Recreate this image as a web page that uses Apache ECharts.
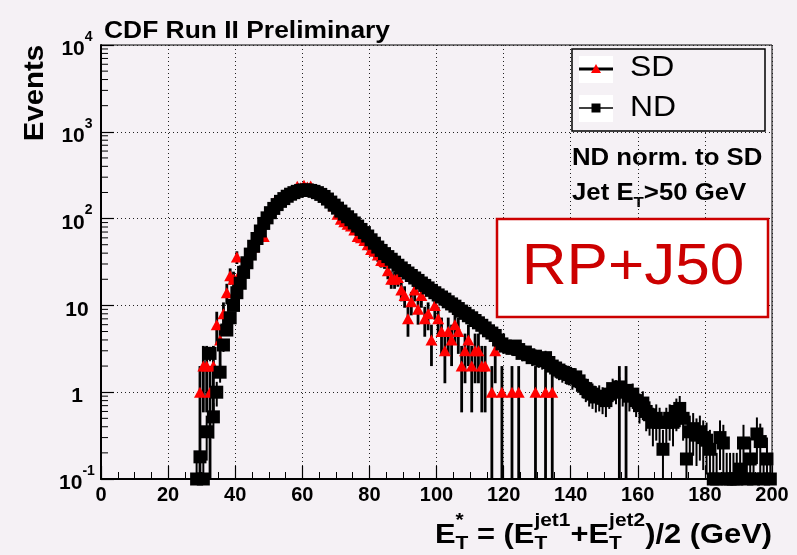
<!DOCTYPE html>
<html>
<head>
<meta charset="utf-8">
<script src="https://cdn.jsdelivr.net/npm/echarts@6.0.0/dist/echarts.min.js"></script>
<style>
html,body{margin:0;padding:0;background:#f5f1f5;}
#chart{width:797px;height:555px;}
</style>
</head>
<body>
<div id="chart"></div>
<script>
// ---------------- data ----------------
const BIN_WIDTH = 1;            // GeV per bin
const ND_FIRST_BIN = 28;        // lower edge of first ND bin
const ndValues = [
  0.1, 0.18, 0.1, 0.35, 2.8, 0.52, 1.0, 1.7, 3.5, 5.2,        // 28-37
  7.2, 10, 14, 18, 24, 31, 39, 48, 59, 72,                    // 38-47
  88, 102, 117, 131, 145, 158, 170, 181, 191, 199,            // 48-57
  206, 211, 214, 214, 211, 206, 199, 190, 180, 168,           // 58-67
  155, 143, 132, 122, 113, 105, 97, 89, 82, 75,               // 68-77
  69, 63, 57, 52, 47, 43, 39.5, 36.5, 34, 31.5,               // 78-87
  29, 27, 25.2, 23.6, 22.1, 20.7, 19.4, 18.1, 17, 15.9,       // 88-97
  14.9, 14, 13.2, 12.5, 11.8, 11.0, 10.4, 9.8, 9.2, 8.6,      // 98-107
  8.1, 7.6, 7.2, 6.7, 6.3, 5.9, 5.5, 5.1, 4.8, 4.5,           // 108-117
  4.0, 3.6, 3.4, 3.3, 3.2, 3.4, 3.1, 2.8, 2.9, 2.7,           // 118-127
  2.5, 2.6, 2.4, 2.3, 2.5, 2.2, 2.0, 1.9, 1.8, 1.7,           // 128-137
  1.65, 1.6, 1.45, 1.5, 1.35, 1.2, 1.1, 1.0, 0.95, 0.88,      // 138-147
  0.9, 0.85, 0.8, 0.95, 1.1, 1.05, 1.15, 1.0, 1.05, 0.9,      // 148-157
  0.95, 0.8, 0.7, 0.75, 0.6, 0.55, 0.45, 0.5, 0.45, 0.22,     // 158-167
  0.45, 0.5, 0.45, 0.6, 0.65, 0.5, 0.17, 0.35, 0.38, 0.32,    // 168-177
  0.35, 0.3, 0.28, 0.22, 0.1, 0.1, 0.3, 0.26, 0.1, 0.1,       // 178-187
  0.1, 0.1, 0.13, 0.26, 0.1, 0.17, 0.1, 0.33, 0.27, 0.1,      // 188-197
  0.17, 0.1                                                   // 198-199
];
const SD_FIRST_BIN = 29;        // lower edge of first SD bin (null = empty bin)
const sdValues = [
  1, 2, 2, 1, 2, 6, 4, 8, 14, 22,                             // 29-38
  20, 36, 24, 28, 33, 40, 47, 60, 70, 62,                     // 39-48
  104, 120, 151, 148, 165, 178, 186, 200, 212, 236,           // 49-58
  226, 242, 232, 238, 218, 210, 196, 182, 172, 168,           // 59-68
  140, 112, 98, 92, 86, 82, 74, 62, 60, 56,                   // 69-78
  50, 44, 42, 38, 33, 32, 25, 20, 20, 21,                     // 79-88
  15, 13, 7, 11, 15, 9, 13, 7, 8, 4,                          // 89-98
  10, 7, 5, 3, 5, 4, 6, 5, 2, 3,                              // 99-108
  4, 2, 3, 3, 2, 2, null, 1, 3, null,                         // 109-118
  1, null, null, 1, null, 1, null, null, null, null,          // 119-128
  1, null, null, 1, null, 1, null, null, null, null,          // 129-138
  null, null, null, null, null, null, null, null, null, null, // 139-148
  null, null, null, null, null, 1, null, 1                    // 149-156
];
const ND_WEIGHT = 0.1;          // ND normalised to SD: one event = 0.1
const SD_WEIGHT = 1;
const seriesNames = ['SD', 'ND'];
const xTickValues = [0, 20, 40, 60, 80, 100, 120, 140, 160, 180, 200];
const yTickValues = [0.1, 1, 10, 100, 1000, 10000];
const yTickLabels = [['10', '-1'], ['1', ''], ['10', ''], ['10', '2'], ['10', '3'], ['10', '4']];
const X_MIN = 0, X_MAX = 200, Y_MIN = 0.1, Y_MAX = 10000;

// ---------------- build series data ----------------
function toPoints(values, firstBin) {
  const pts = [];
  values.forEach((v, i) => {
    if (v !== null && v > 0) pts.push([firstBin + (i + 0.5) * BIN_WIDTH, v]);
  });
  return pts;
}
function toErrors(points, w) {
  return points.map(([x, v]) => {
    const s = Math.sqrt(v * w);
    return [x, Math.max(v - s, Y_MIN), v + s];
  });
}
const ndPts = toPoints(ndValues, ND_FIRST_BIN);
const sdPts = toPoints(sdValues, SD_FIRST_BIN);
const ndErr = toErrors(ndPts, ND_WEIGHT);
const sdErr = toErrors(sdPts, SD_WEIGHT);

// log minor ticks (2..9 in every decade)
const yMinorTicks = [];
for (let d = -1; d < 4; d++) for (let k = 2; k <= 9; k++) yMinorTicks.push(k * Math.pow(10, d));

const FONT = "'Liberation Sans', Arial, Helvetica, sans-serif";
const BG = '#f5f1f5';

function errRender(width) {
  return function (params, api) {
    const x = api.value(0);
    const p1 = api.coord([x, api.value(1)]);
    const p2 = api.coord([x, api.value(2)]);
    return { type: 'line', shape: { x1: p1[0], y1: p1[1], x2: p2[0], y2: p2[1] },
             style: { stroke: '#000', lineWidth: width } };
  };
}

// ---------------- text helpers ----------------
const mctx = document.createElement('canvas').getContext('2d');
function tw(t, fs, bold) { mctx.font = (bold ? 'bold ' : '') + fs + 'px ' + FONT; return mctx.measureText(t).width; }
function txt(t, x, y, fs, bold, fill) {
  return { type: 'text', x: x, y: y, style: { text: t, fontSize: fs, fontWeight: bold ? 'bold' : 'normal',
           fontFamily: FONT, fill: fill || '#000', align: 'left', verticalAlign: 'middle' } };
}
function composite(parts, bold) {
  let x = 0; const kids = [];
  parts.forEach(p => {
    if (p.t !== undefined) { kids.push(txt(p.t, x, 0, p.fs, bold)); x += tw(p.t, p.fs, bold); }
    else {
      const w = Math.max(p.sup ? tw(p.sup, p.fs, bold) : 0, p.sub ? tw(p.sub, p.fs, bold) : 0);
      if (p.sup) kids.push(txt(p.sup, x, p.supDy, p.fs, bold));
      if (p.sub) kids.push(txt(p.sub, x, p.subDy, p.fs, bold));
      x += w;
    }
  });
  return { kids, width: x };
}

// x-axis title: E*_T = (E^jet1_T + E^jet2_T)/2 (GeV)
const xt = composite([
  { t: 'E', fs: 28 }, { sup: '*', sub: 'T', fs: 19, supDy: -14, subDy: 9 },
  { t: ' = (E', fs: 28 }, { sup: 'jet1', sub: 'T', fs: 19, supDy: -14, subDy: 9 },
  { t: '+E', fs: 28 }, { sup: 'jet2', sub: 'T', fs: 19, supDy: -14, subDy: 9 },
  { t: ')/2 (GeV)', fs: 28 }
], true);
const XT_LEFT = 435, XT_RIGHT = 772;
const xtScale = (XT_RIGHT - XT_LEFT) / xt.width;

const jet = composite([
  { t: 'Jet E', fs: 23 }, { sub: 'T', fs: 15, subDy: 9 }, { t: '>50 GeV', fs: 23 }
], true);

const chart = echarts.init(document.getElementById('chart'), null, { renderer: 'canvas' });
chart.setOption({
  backgroundColor: BG,
  animation: false,
  grid: { left: 101, right: 25, top: 45, bottom: 76, show: true, borderColor: '#000', borderWidth: 1,
          backgroundColor: 'transparent', containLabel: false, outerBoundsMode: 'none' },
  xAxis: {
    type: 'value', min: X_MIN, max: X_MAX, interval: 20,
    axisLine: { show: true, onZero: false, lineStyle: { color: '#000', width: 2 } },
    axisTick: { show: true, inside: true, length: 13, lineStyle: { color: '#000', width: 1.2 } },
    minorTick: { show: true, splitNumber: 4, length: 7, lineStyle: { color: '#000', width: 1 } },
    splitLine: { show: true, lineStyle: { color: '#222', width: 1, type: [1, 3] } },
    axisLabel: { show: true, margin: 6, fontSize: 20, fontWeight: 'bold', fontFamily: FONT, color: '#000',
                 formatter: v => xTickValues.indexOf(v) >= 0 ? String(v) : '' }
  },
  yAxis: {
    type: 'log', logBase: 10, min: Y_MIN, max: Y_MAX, splitNumber: 5,
    axisLine: { show: true, onZero: false, lineStyle: { color: '#000', width: 2 } },
    axisTick: { show: true, inside: true, length: 13, lineStyle: { color: '#000', width: 1.2 } },
    minorTick: { show: false },
    splitLine: { show: true, lineStyle: { color: '#222', width: 1, type: [1, 3] } },
    axisLabel: {
      show: true, margin: 24, align: 'center', color: '#000',
      formatter: function (v) {
        let idx = -1;
        yTickValues.forEach((t, i) => { if (Math.abs(Math.log10(v) - Math.log10(t)) < 1e-6) idx = i; });
        if (idx < 0) return '';
        const [b, e] = yTickLabels[idx];
        return '{b|' + b + '}' + (e ? '{e|' + e + '}' : '');
      },
      rich: {
        b: { fontSize: 21, fontWeight: 'bold', fontFamily: FONT, color: '#000', lineHeight: 30, verticalAlign: 'bottom' },
        e: { fontSize: 14, fontWeight: 'bold', fontFamily: FONT, color: '#000', lineHeight: 14, verticalAlign: 'top' }
      }
    }
  },
  series: [
    { type: 'custom', name: 'yMinorTicks', silent: true, z: 5, data: [[X_MIN, Y_MIN]],
      renderItem: function (params, api) {
        return { type: 'group', children: yMinorTicks.map(v => {
          const p = api.coord([X_MIN, v]);
          return { type: 'line', shape: { x1: p[0], y1: p[1], x2: p[0] + 7, y2: p[1] }, style: { stroke: '#000', lineWidth: 1 } };
        }) };
      } },
    { type: 'custom', name: seriesNames[0] + ' err', data: sdErr, encode: { x: 0, y: [1, 2] },
      renderItem: errRender(2.8), clip: true, z: 2, silent: true },
    { type: 'scatter', name: seriesNames[0], data: sdPts, symbol: 'triangle', symbolSize: [12, 11],
      itemStyle: { color: '#ff0000', opacity: 1 }, z: 3, silent: true, clip: true },
    { type: 'custom', name: seriesNames[1] + ' err', data: ndErr, encode: { x: 0, y: [1, 2] },
      renderItem: errRender(2), clip: true, z: 4, silent: true },
    { type: 'scatter', name: seriesNames[1], data: ndPts, symbol: 'rect', symbolSize: 13,
      itemStyle: { color: '#000000', opacity: 1 }, z: 5, silent: true, clip: true }
  ],
  graphic: [
    // title
    { type: 'text', x: 104, y: 31, scaleX: 1.1, style: { text: 'CDF Run II Preliminary', fontSize: 24, fontWeight: 'bold',
      fontFamily: FONT, fill: '#000', align: 'left', verticalAlign: 'middle' } },
    // y axis title
    { type: 'text', x: 35, y: 93, rotation: Math.PI / 2, scaleX: 1.05, style: { text: 'Events', fontSize: 28, fontWeight: 'bold',
      fontFamily: FONT, fill: '#000', align: 'center', verticalAlign: 'middle' } },
    // legend box
    { type: 'rect', z: 100, shape: { x: 572, y: 49, width: 193, height: 82 },
      style: { fill: BG, stroke: '#000', lineWidth: 1.5 } },
    { type: 'rect', z: 101, shape: { x: 579, y: 56, width: 34, height: 27 }, style: { fill: '#fff' } },
    { type: 'rect', z: 101, shape: { x: 579, y: 95, width: 34, height: 27 }, style: { fill: '#fff' } },
    { type: 'line', z: 102, shape: { x1: 579, y1: 69, x2: 613, y2: 69 }, style: { stroke: '#000', lineWidth: 3 } },
    { type: 'polygon', z: 103, shape: { points: [[591, 73], [601, 73], [596, 64]] }, style: { fill: '#ff0000' } },
    { type: 'line', z: 102, shape: { x1: 579, y1: 108, x2: 613, y2: 108 }, style: { stroke: '#000', lineWidth: 1.5 } },
    { type: 'rect', z: 103, shape: { x: 591.5, y: 103.5, width: 9, height: 9 }, style: { fill: '#000' } },
    { type: 'text', z: 103, x: 630, y: 68, scaleX: 1.1, style: { text: seriesNames[0], fontSize: 29, fontFamily: FONT,
      fill: '#000', align: 'left', verticalAlign: 'middle' } },
    { type: 'text', z: 103, x: 630, y: 108, scaleX: 1.1, style: { text: seriesNames[1], fontSize: 29, fontFamily: FONT,
      fill: '#000', align: 'left', verticalAlign: 'middle' } },
    // annotations
    { type: 'text', z: 100, x: 572, y: 158.5, scaleX: 1.12, style: { text: 'ND norm. to SD', fontSize: 23, fontWeight: 'bold',
      fontFamily: FONT, fill: '#000', align: 'left', verticalAlign: 'middle' } },
    { type: 'group', z: 100, x: 572, y: 193.5, scaleX: 1.12, children: jet.kids },
    // RP+J50 box
    { type: 'rect', z: 100, shape: { x: 497, y: 219, width: 271, height: 98 },
      style: { fill: '#ffffff', stroke: '#cc0000', lineWidth: 2.5 } },
    { type: 'text', z: 101, x: 633, y: 268, scaleX: 1.07, style: { text: 'RP+J50', fontSize: 58, fontFamily: FONT,
      fill: '#cc0000', align: 'center', verticalAlign: 'middle' } },
    // x axis title
    { type: 'group', z: 100, x: XT_LEFT, y: 535, scaleX: xtScale, children: xt.kids }
  ]
});
</script>
</body>
</html>
